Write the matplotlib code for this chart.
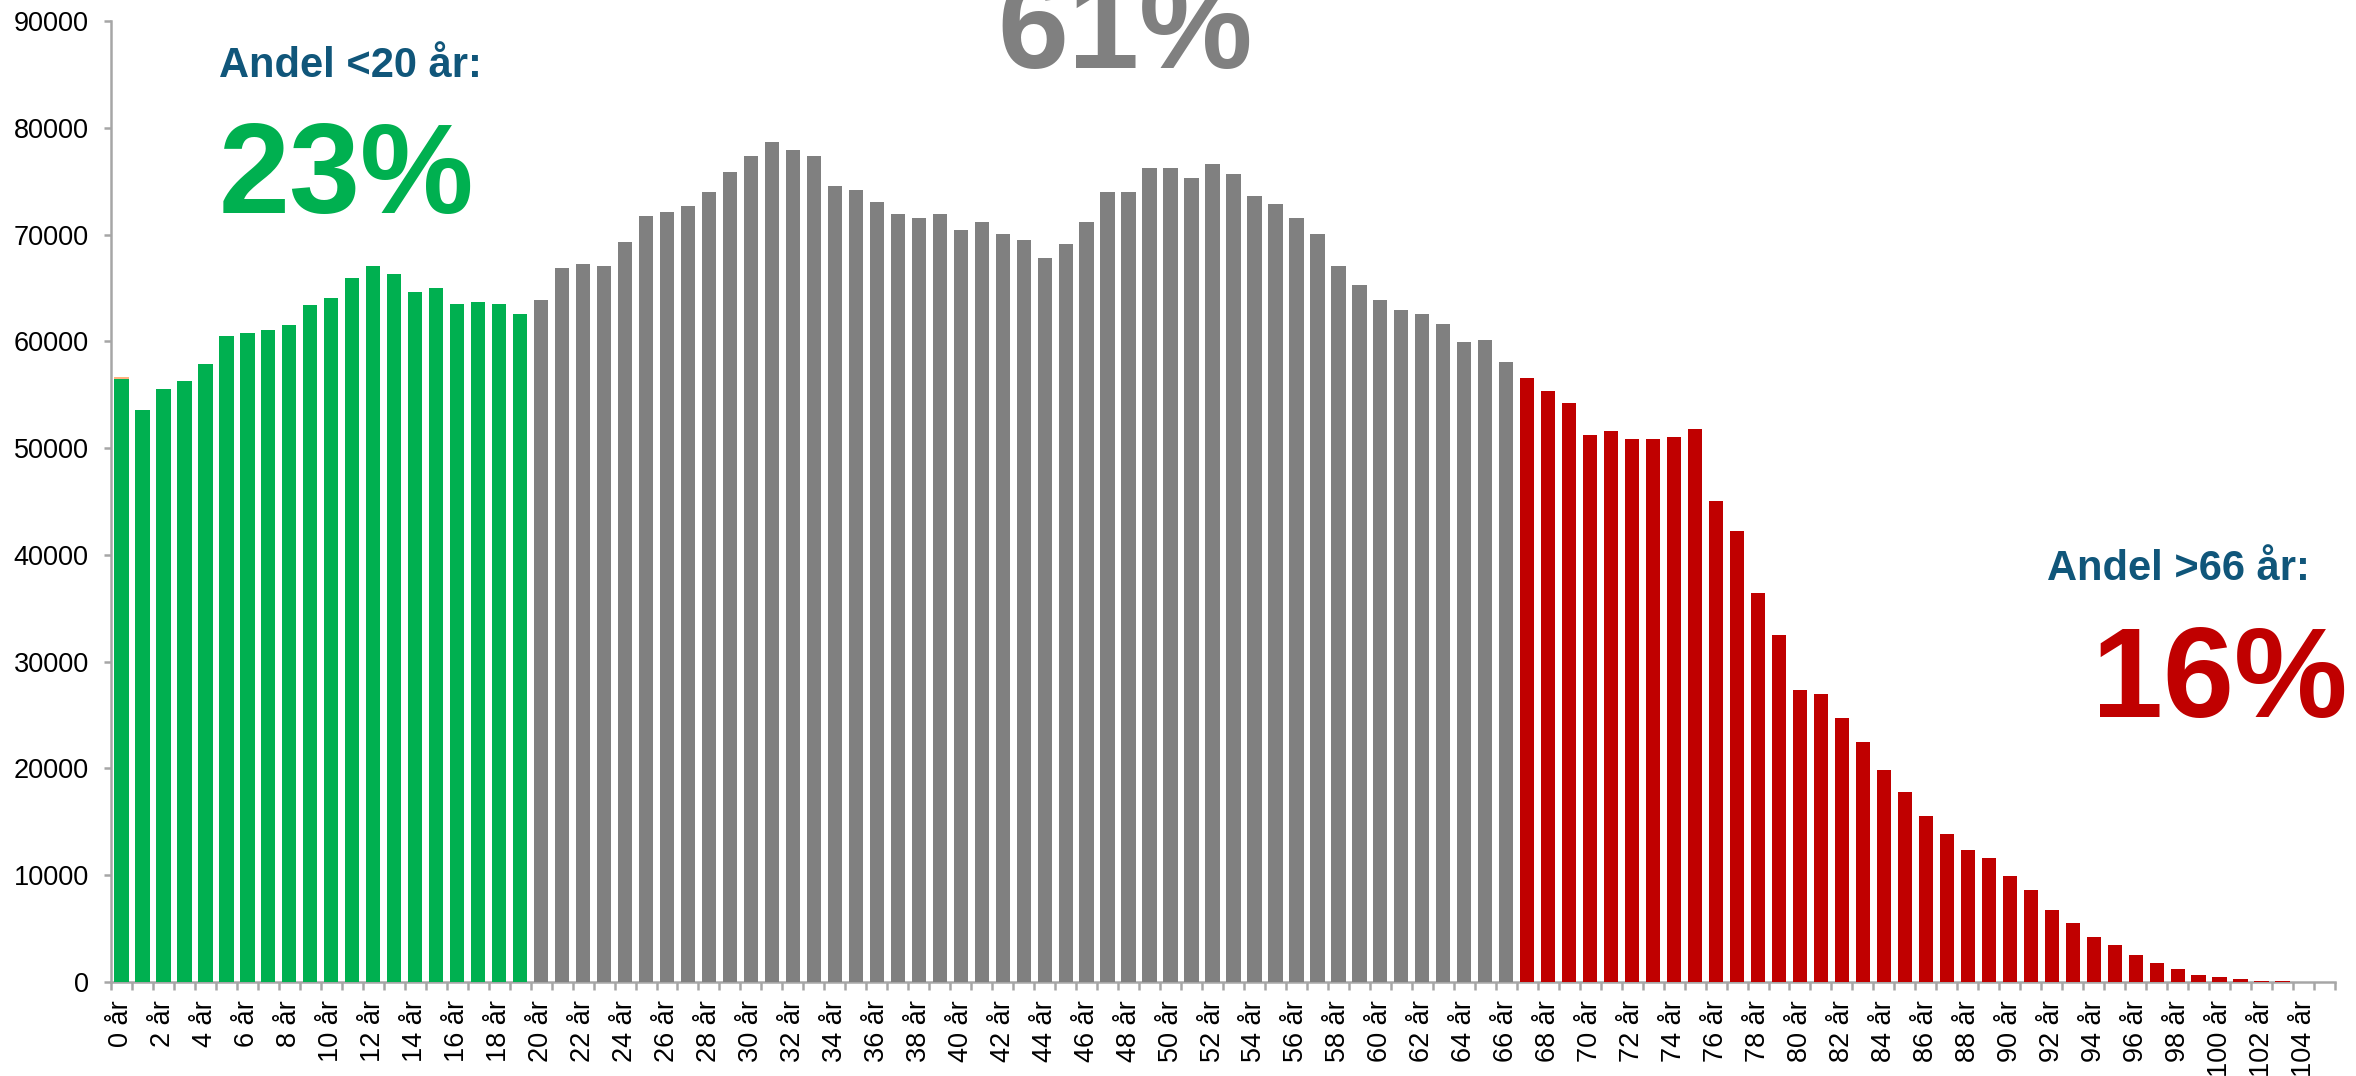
import numpy as np
import matplotlib
matplotlib.use("Agg")
import matplotlib.pyplot as plt
from matplotlib.ticker import FixedLocator

# Population by single year of age (0..105)
ages = list(range(0, 106))

young = [  # 0-19 år
    56430, 53610, 55500, 56240, 57920, 60530, 60750, 61100, 61500, 63360,
    64100, 65970, 67090, 66320, 64640, 65020, 63520, 63710, 63520, 62590,
]
working = [  # 20-66 år
    63890, 66880, 67260, 67090, 69330, 71760, 72130, 72690, 74000, 75860,
    77360, 78660, 77910, 77360, 74560, 74190, 73070, 71950, 71580, 71950,
    70450, 71200, 70080, 69520, 67840, 69100, 71200, 74000, 74000, 76220,
    76220, 75290, 76590, 75660, 73610, 72860, 71580, 70080, 67090, 65230,
    63890, 62960, 62590, 61650, 59970, 60160, 58100,
]
old = [  # 67-105 år
    56610, 55320, 54180, 51210, 51570, 50820, 50820, 51000, 51750, 45040,
    42250, 36460, 32540, 27320, 26930, 24710, 22460, 19860, 17790, 15550,
    13870, 12380, 11630, 9950, 8650, 6780, 5480, 4180, 3430, 2500,
    1750, 1190, 630, 440, 250, 120, 70, 40, 20,
]
extra_age0 = 200  # small extra series on top of age 0

share_labels = ["Andel <20 år:", "Andel 20-66 år:", "Andel >66 år:"]
share_values = ["23%", "61%", "16%"]

GREEN = "#00B050"
GRAY = "#808080"
RED = "#C00000"
ORANGE = "#FFB27F"
TITLE = "#10567A"
AXIS = "#A6A6A6"

plt.rcParams["font.family"] = ["Liberation Sans", "DejaVu Sans"]

fig = plt.figure(figsize=(23.56, 10.76), dpi=100)
ax = fig.add_axes([111 / 2356, 1 - 982 / 1076, (2335 - 111) / 2356, (982 - 21) / 1076])

bw = 0.68
x_young = ages[:len(young)]
x_work = ages[len(young):len(young) + len(working)]
x_old = ages[len(young) + len(working):]
ax.bar(x_young, young, width=bw, color=GREEN, zorder=3)
ax.bar([0], [extra_age0], bottom=[young[0]], width=bw, color=ORANGE, zorder=3)
ax.bar(x_work, working, width=bw, color=GRAY, zorder=3)
ax.bar(x_old, old, width=bw, color=RED, zorder=3)

ax.set_xlim(-0.5, 105.5)
ax.set_ylim(0, 90000)

for s in ["top", "right"]:
    ax.spines[s].set_visible(False)
for s in ["left", "bottom"]:
    ax.spines[s].set_color(AXIS)
    ax.spines[s].set_linewidth(1.8)
    ax.spines[s].set_zorder(2)

ax.set_yticks(np.arange(0, 90001, 10000))
ax.set_yticklabels([str(v) for v in range(0, 90001, 10000)], fontsize=19.5)
ax.tick_params(axis="y", length=5, width=1.8, color=AXIS, pad=11)

even = ages[::2]
ax.set_xticks(even)
ax.set_xticklabels([f"{a} år" for a in even], rotation=90, fontsize=19.5)
ax.tick_params(axis="x", which="major", length=0, pad=13)
ax.xaxis.set_minor_locator(FixedLocator(np.arange(-0.5, 106, 1)))
ax.tick_params(axis="x", which="minor", length=5.5, width=1.8, color=AXIS)

# share annotations
fig.text(219 / 2356, 1 - 77 / 1076, share_labels[0], fontsize=30, fontweight="bold",
         color=TITLE, ha="left", va="baseline")
fig.text(219 / 2356, 1 - 213 / 1076, share_values[0], fontsize=92, fontweight="bold",
         color=GREEN, ha="left", va="baseline")
fig.text(1125 / 2356, 1 - 68 / 1076, share_values[1], fontsize=92, fontweight="bold",
         color=GRAY, ha="center", va="baseline")
fig.text(2047 / 2356, 1 - 580 / 1076, share_labels[2], fontsize=30, fontweight="bold",
         color=TITLE, ha="left", va="baseline")
fig.text(2092 / 2356, 1 - 717 / 1076, share_values[2], fontsize=92, fontweight="bold",
         color=RED, ha="left", va="baseline")

fig.savefig("out.png", dpi=100)
